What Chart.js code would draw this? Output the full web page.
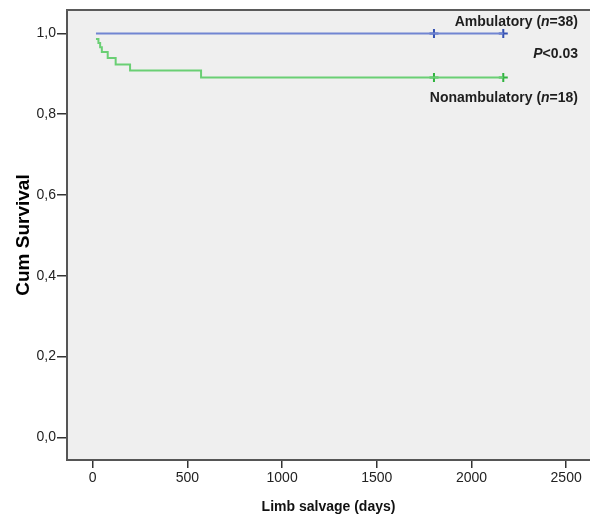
<!DOCTYPE html>
<html><head><meta charset="utf-8">
<script src="https://cdn.jsdelivr.net/npm/chart.js@4/dist/chart.umd.min.js"></script>
<style>html,body{margin:0;padding:0;background:#fff}#wrap{width:590px;height:517px}</style>
</head><body><div id="wrap"><canvas id="c" width="590" height="517"></canvas></div>
<script>
// ---- data ----
const ambulatoryTimes = [17, 2168];
const ambulatorySurv  = [1.0, 1.0];
const nonambTimes = [17, 30, 39, 48, 79, 121, 197, 572, 2168];
const nonambSurv  = [0.986, 0.976, 0.966, 0.954, 0.939, 0.923, 0.908, 0.891, 0.891];
const censorTimes = [1802, 2168];
const ambCensorSurv = [1.0, 1.0];
const nonambCensorSurv = [0.891, 0.891];
const xTicks = [0, 500, 1000, 1500, 2000, 2500];
const xTickLabels = ['0', '500', '1000', '1500', '2000', '2500'];
const yTicks = [0, 0.2, 0.4, 0.6, 0.8, 1.0];
const yTickLabels = ['0,0', '0,2', '0,4', '0,6', '0,8', '1,0'];
const seriesLabels = ['Ambulatory', 'Nonambulatory'];
const seriesN = [38, 18];
const pText = '<0.03';

const FONT = "Arial, 'Liberation Sans', Helvetica, sans-serif";
const pts = (xs, ys) => xs.map((x, i) => ({x: x, y: ys[i]}));
const lookup = (ticks, labels) => (v) => { const i = ticks.findIndex(t => Math.abs(t - v) < 1e-9); return i >= 0 ? labels[i] : ''; };

const bgPlugin = {
  id: 'bg',
  beforeDraw(chart) {
    const {ctx, chartArea: a} = chart;
    ctx.save();
    ctx.fillStyle = '#efefef';
    ctx.fillRect(a.left, a.top, a.right - a.left, a.bottom - a.top);
    ctx.restore();
  },
  afterDraw(chart) {
    const {ctx, chartArea: a} = chart;
    ctx.save();
    ctx.strokeStyle = '#5a5a5a';
    ctx.lineWidth = 2;
    ctx.beginPath();
    ctx.moveTo(a.left - 1, a.top);
    ctx.lineTo(a.right, a.top);
    ctx.stroke();
    ctx.restore();
  }
};

function drawRich(ctx, parts, rightX, y) {
  let total = 0;
  parts.forEach(p => { ctx.font = p.f; p.w = ctx.measureText(p.t).width; total += p.w; });
  let x = rightX - total;
  parts.forEach(p => { ctx.font = p.f; ctx.fillText(p.t, x, y); x += p.w; });
}

const annotPlugin = {
  id: 'annot',
  afterDatasetsDraw(chart) {
    const {ctx, chartArea: a} = chart;
    const b = "bold 14px " + FONT, bi = "italic bold 14px " + FONT;
    const right = a.right - 12;
    ctx.save();
    ctx.fillStyle = '#1e1e1e';
    ctx.textBaseline = 'middle';
    ctx.textAlign = 'left';
    drawRich(ctx, [{t: seriesLabels[0] + ' (', f: b}, {t: 'n', f: bi}, {t: '=' + seriesN[0] + ')', f: b}], right, a.top + 12);
    drawRich(ctx, [{t: 'P', f: bi}, {t: pText, f: b}], right, a.top + 44);
    drawRich(ctx, [{t: seriesLabels[1] + ' (', f: b}, {t: 'n', f: bi}, {t: '=' + seriesN[1] + ')', f: b}], right, a.top + 88);
    ctx.restore();
  }
};

new Chart(document.getElementById('c'), {
  type: 'scatter',
  data: {
    datasets: [
      {data: pts(ambulatoryTimes, ambulatorySurv), showLine: true, stepped: 'before',
       borderColor: '#7185d2', borderWidth: 2, pointRadius: 0},
      {data: pts(nonambTimes, nonambSurv), showLine: true, stepped: 'before',
       borderColor: '#6acf74', borderWidth: 2, pointRadius: 0},
      {data: pts(censorTimes, ambCensorSurv), showLine: false, pointStyle: 'cross',
       pointRadius: 4.5, borderColor: '#3451b3', borderWidth: 2},
      {data: pts(censorTimes, nonambCensorSurv), showLine: false, pointStyle: 'cross',
       pointRadius: 4.5, borderColor: '#2fb33e', borderWidth: 2}
    ]
  },
  options: {
    responsive: false,
    animation: false,
    devicePixelRatio: 1,
    layout: {autoPadding: false, padding: {top: 10, right: 0, left: 0, bottom: 0}},
    plugins: {legend: {display: false}, tooltip: {enabled: false}},
    scales: {
      x: {
        type: 'linear', min: -136, max: 2626,
        afterFit(s) { s.height = 57; s.paddingLeft = 0; s.paddingRight = 0; },
        afterBuildTicks(s) { s.ticks = xTicks.map(v => ({value: v})); },
        ticks: {font: {size: 14, family: FONT}, color: '#222', padding: 2, autoSkip: false, maxRotation: 0,
                callback: lookup(xTicks, xTickLabels)},
        grid: {drawOnChartArea: false, drawTicks: true, tickLength: 8, color: '#333', lineWidth: 1.5},
        border: {display: true, color: '#555', width: 2},
        title: {display: true, text: 'Limb salvage (days)', color: '#111',
                font: {size: 14, weight: 'bold', family: FONT}, padding: {top: 0, bottom: 1}}
      },
      y: {
        type: 'linear', min: -0.056, max: 1.058,
        afterFit(s) { s.width = 67; s.paddingTop = 0; s.paddingBottom = 0; },
        afterBuildTicks(s) { s.ticks = yTicks.map(v => ({value: v})); },
        ticks: {font: {size: 14, family: FONT}, color: '#222', padding: 1, autoSkip: false,
                callback: lookup(yTicks, yTickLabels)},
        grid: {drawOnChartArea: false, drawTicks: true, tickLength: 10, color: '#333', lineWidth: 1.5},
        border: {display: true, color: '#555', width: 2},
        title: {display: true, text: 'Cum Survival', color: '#000',
                font: {size: 19, weight: 'bold', family: FONT}, padding: {top: 12, bottom: 0}}
      }
    }
  },
  plugins: [bgPlugin, annotPlugin]
});
</script></body></html>
